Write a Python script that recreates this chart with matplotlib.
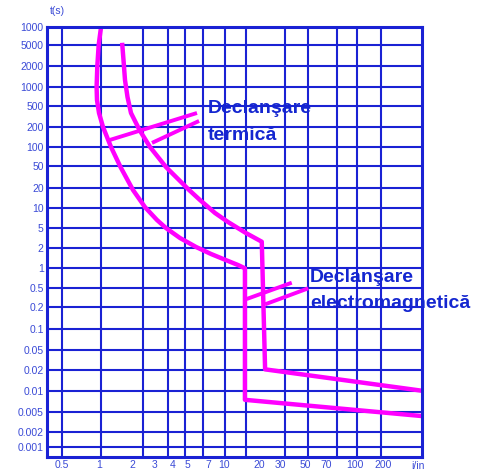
import numpy as np
import matplotlib.pyplot as plt
from matplotlib.ticker import NullLocator

plt.rcParams["font.family"] = ["Liberation Sans", "DejaVu Sans"]

# tick values / labels as printed on the sheet
y_values = [10000, 5000, 2000, 1000, 500, 200, 100, 50, 20, 10, 5, 2, 1,
            0.5, 0.2, 0.1, 0.05, 0.02, 0.01, 0.005, 0.002, 0.001]
y_labels = ["1000", "5000", "2000", "1000", "500", "200", "100", "50", "20", "10", "5", "2", "1",
            "0.5", "0.2", "0.1", "0.05", "0.02", "0.01", "0.005", "0.002", "0.001"]
x_values = [0.5, 1, 2, 3, 4, 5, 7, 10, 20, 30, 50, 70, 100, 200]
x_labels = ["0.5", "1", "2", "3", "4", "5", "7", "10", "20", "30", "50", "70", "100", "200"]

# tripping curves, current (I/In) vs time (s)
outer_i = [1.042, 0.994, 0.969, 0.956, 0.963, 1.0, 1.086, 1.28, 1.556, 2.01, 2.5, 3.1, 3.6,
           4.47, 5.73, 7.43, 10.3, 13.15, 15.1, 15.1, 530]
outer_t = [10000, 5000, 1980, 989, 620, 367, 198, 101, 48.9, 18.5, 10.2, 6.64, 5.08,
           3.18, 2.07, 1.62, 1.32, 1.117, 1.0, 0.0074, 0.0041]
inner_i = [1.615, 1.655, 1.707, 1.797, 1.931, 2.263, 2.74, 3.6, 5.11, 6.11, 8.13, 10.77,
           15.4, 21.1, 22.5, 530]
inner_t = [5000, 2574, 1247, 691, 367, 179, 101, 48.9, 18.5, 13.06, 8.38, 6.21,
           4.03, 2.66, 0.0206, 0.01]

# label pointers
therm_ptr_i = [[1.25, 5.82], [2.84, 6.02]]
therm_ptr_t = [[128, 367], [116, 258]]
magn_ptr_i = [[15.6, 37.9], [22.5, 52.2]]
magn_ptr_t = [[0.298, 0.607], [0.231, 0.5]]

# layout: pixel positions of the printed (non-uniform) grid
W, H = 484, 473
L, R, T, B = 46.5, 421.7, 27.3, 457.0
y_tick_px = [27.3, 45, 65.7, 86.7, 106, 126.7, 147.3, 166.5, 187.7, 207.7, 228.5, 247.7, 268.3,
             288.3, 307.3, 329.3, 350, 370, 390.7, 411.7, 431.7, 446.7]
x_tick_px = [62, 99, 132.7, 155, 172.3, 187.7, 208.3, 224.3, 259, 280, 305.7, 326, 355, 382.7]
x_grid_px = [61.7, 101, 142.7, 167.7, 185, 203.3, 225, 245.7, 285, 308.3, 336.7, 356.7, 381]

grid_color = "#1a22d4"
label_color = "#3a4ad6"
text_color = "#1426d0"
curve_color = "#ff00ff"


def seg_interp(x, xp, fp):
    x = np.asarray(x, dtype=float)
    y = np.interp(x, xp, fp)
    y = np.where(x < xp[0], fp[0] + (x - xp[0]) * (fp[1] - fp[0]) / (xp[1] - xp[0]), y)
    y = np.where(x > xp[-1], fp[-1] + (x - xp[-1]) * (fp[-1] - fp[-2]) / (xp[-1] - xp[-2]), y)
    return y


def grid_scale(values, px, flip=False):
    lv = np.log10(np.asarray(values, dtype=float))
    u = np.asarray(px, dtype=float)
    if flip:
        u = -u
    order = np.argsort(lv)
    lv, u = lv[order], u[order]

    def fwd(v):
        v = np.clip(np.asarray(v, dtype=float), 1e-12, None)
        return seg_interp(np.log10(v), lv, u)

    def inv(w):
        return 10 ** seg_interp(w, u, lv)

    return fwd, inv


fig = plt.figure(figsize=(W / 100, H / 100), dpi=100)
ax = fig.add_axes([L / W, 1 - B / H, (R - L) / W, (B - T) / H])

fx, ix = grid_scale(x_values, x_tick_px)
fy, iy = grid_scale(y_values, y_tick_px, flip=True)
ax.set_xscale("function", functions=(fx, ix))
ax.set_yscale("function", functions=(fy, iy))
ax.set_xlim(float(ix(L)), float(ix(R)))
ax.set_ylim(float(iy(-B)), float(iy(-T)))

ax.set_xticks(x_values, x_labels)
ax.set_yticks(y_values, y_labels)
ax.xaxis.set_minor_locator(NullLocator())
ax.yaxis.set_minor_locator(NullLocator())
ax.tick_params(length=0, pad=2, labelsize=7.5, colors=label_color)

ax.yaxis.grid(True, color=grid_color, lw=1.5)
ax.vlines([(p - L) / (R - L) for p in x_grid_px], 0, 1, transform=ax.transAxes,
          color=grid_color, lw=1.5, zorder=1)
ax.set_axisbelow(True)
for s in ax.spines.values():
    s.set_color(grid_color)
    s.set_linewidth(2.2)
    s.set_zorder(4)

ax.plot(outer_i, outer_t, color=curve_color, lw=3.2, solid_joinstyle="round", zorder=3)
ax.plot(inner_i, inner_t, color=curve_color, lw=3.2, solid_joinstyle="round", zorder=3)
for xi, ti in zip(therm_ptr_i + magn_ptr_i, therm_ptr_t + magn_ptr_t):
    ax.plot(xi, ti, color=curve_color, lw=2.8, solid_capstyle="butt", zorder=3)

fig.text(57 / W, 1 - 11 / H, "t(s)", ha="center", va="center", fontsize=7.5, color=label_color)
fig.text(418 / W, 1 - 466 / H, "i/in", ha="center", va="center", fontsize=7.5, color=label_color)

fig.text(208 / W, 1 - 113.3 / H, "Declanşare", ha="left", va="baseline",
         fontsize=14, fontweight="bold", color=text_color)
fig.text(208 / W, 1 - 140 / H, "termică", ha="left", va="baseline",
         fontsize=14, fontweight="bold", color=text_color)
fig.text(310 / W, 1 - 281.7 / H, "Declanşare", ha="left", va="baseline",
         fontsize=14, fontweight="bold", color=text_color)
fig.text(310 / W, 1 - 308 / H, "electromagnetică", ha="left", va="baseline",
         fontsize=14, fontweight="bold", color=text_color)

fig.savefig("out.png", dpi=100)
